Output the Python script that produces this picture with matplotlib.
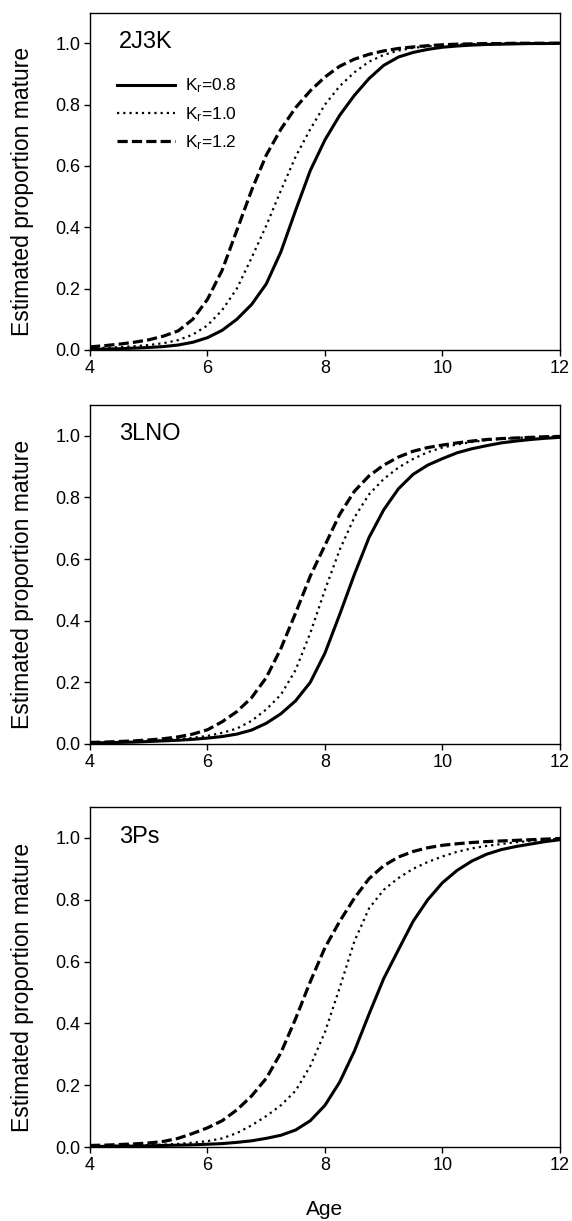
import matplotlib
matplotlib.use("Agg")
import matplotlib.pyplot as plt

# ages (x grid)
age = [4.0, 4.25, 4.5, 4.75, 5.0, 5.25, 5.5, 5.75, 6.0, 6.25, 6.5, 6.75,
       7.0, 7.25, 7.5, 7.75, 8.0, 8.25, 8.5, 8.75, 9.0, 9.25, 9.5, 9.75,
       10.0, 10.25, 10.5, 10.75, 11.0, 11.25, 11.5, 11.75, 12.0]

regions = ["2J3K", "3LNO", "3Ps"]
kr_labels = [r"K$_\mathrm{r}$=0.8", r"K$_\mathrm{r}$=1.0", r"K$_\mathrm{r}$=1.2"]

# 2J3K
p2j3k_08 = [0.002, 0.003, 0.004, 0.006, 0.008, 0.011, 0.016, 0.025, 0.040, 0.064, 0.100, 0.148,
            0.215, 0.320, 0.455, 0.585, 0.685, 0.765, 0.830, 0.885, 0.928, 0.955, 0.970, 0.980,
            0.987, 0.991, 0.994, 0.996, 0.997, 0.998, 0.999, 0.999, 1.000]
p2j3k_10 = [0.005, 0.007, 0.009, 0.012, 0.016, 0.022, 0.032, 0.050, 0.080, 0.130, 0.200, 0.300,
            0.405, 0.520, 0.630, 0.720, 0.800, 0.860, 0.905, 0.940, 0.962, 0.976, 0.985, 0.990,
            0.994, 0.996, 0.997, 0.998, 0.999, 0.999, 1.000, 1.000, 1.000]
p2j3k_12 = [0.010, 0.014, 0.019, 0.025, 0.033, 0.045, 0.062, 0.100, 0.165, 0.260, 0.390, 0.520,
            0.635, 0.720, 0.790, 0.845, 0.890, 0.925, 0.948, 0.964, 0.975, 0.983, 0.988, 0.992,
            0.995, 0.997, 0.998, 0.999, 0.999, 1.000, 1.000, 1.000, 1.000]

# 3LNO
p3lno_08 = [0.003, 0.004, 0.005, 0.006, 0.008, 0.010, 0.012, 0.015, 0.019, 0.024, 0.032, 0.045,
            0.067, 0.098, 0.140, 0.200, 0.295, 0.420, 0.550, 0.670, 0.760, 0.828, 0.875, 0.905,
            0.926, 0.945, 0.958, 0.968, 0.977, 0.983, 0.988, 0.992, 0.995]
p3lno_10 = [0.004, 0.005, 0.006, 0.008, 0.010, 0.013, 0.016, 0.020, 0.026, 0.036, 0.050, 0.075,
            0.112, 0.160, 0.240, 0.360, 0.500, 0.630, 0.735, 0.810, 0.860, 0.897, 0.925, 0.947,
            0.962, 0.972, 0.980, 0.986, 0.990, 0.993, 0.995, 0.997, 0.998]
p3lno_12 = [0.005, 0.006, 0.008, 0.010, 0.013, 0.017, 0.023, 0.032, 0.046, 0.072, 0.105, 0.150,
            0.215, 0.310, 0.425, 0.545, 0.645, 0.745, 0.820, 0.870, 0.905, 0.931, 0.950, 0.962,
            0.970, 0.977, 0.983, 0.988, 0.991, 0.993, 0.995, 0.997, 0.998]

# 3Ps
p3ps_08 = [0.002, 0.002, 0.003, 0.003, 0.004, 0.005, 0.006, 0.007, 0.009, 0.011, 0.015, 0.020,
           0.028, 0.038, 0.055, 0.085, 0.135, 0.210, 0.310, 0.430, 0.545, 0.638, 0.730, 0.800,
           0.855, 0.895, 0.925, 0.947, 0.962, 0.972, 0.980, 0.988, 0.994]
p3ps_10 = [0.003, 0.003, 0.004, 0.005, 0.006, 0.008, 0.010, 0.014, 0.019, 0.028, 0.045, 0.070,
           0.100, 0.135, 0.182, 0.262, 0.372, 0.515, 0.665, 0.772, 0.832, 0.870, 0.900, 0.922,
           0.940, 0.955, 0.966, 0.974, 0.980, 0.986, 0.990, 0.994, 0.997]
p3ps_12 = [0.005, 0.006, 0.008, 0.010, 0.013, 0.018, 0.028, 0.044, 0.062, 0.085, 0.120, 0.165,
           0.222, 0.305, 0.415, 0.535, 0.645, 0.730, 0.805, 0.868, 0.910, 0.938, 0.956, 0.968,
           0.976, 0.981, 0.985, 0.988, 0.990, 0.992, 0.994, 0.996, 0.998]

curves = [
    [p2j3k_08, p2j3k_10, p2j3k_12],
    [p3lno_08, p3lno_10, p3lno_12],
    [p3ps_08, p3ps_10, p3ps_12],
]

plt.rcParams["font.family"] = ["Liberation Sans", "DejaVu Sans"]
plt.rcParams["mathtext.fontset"] = "custom"
plt.rcParams["mathtext.rm"] = "Liberation Sans"
plt.rcParams["mathtext.it"] = "Liberation Sans:italic"

fig = plt.figure(figsize=(5.72, 12.21), dpi=100, facecolor="white")

# axes boxes in figure fraction: left, bottom, width, height
boxes = [
    [0.1573, 0.7134, 0.8217, 0.2763],
    [0.1573, 0.3907, 0.8217, 0.2776],
    [0.1573, 0.0606, 0.8217, 0.2785],
]

styles = [
    dict(linestyle="-", linewidth=2.2),
    dict(linestyle=(0, (1, 1.8)), linewidth=1.6),
    dict(linestyle=(0, (3.2, 1.3)), linewidth=2.3),
]

for i, (box, name) in enumerate(zip(boxes, regions)):
    ax = fig.add_axes(box)
    for vals, st, lab in zip(curves[i], styles, kr_labels):
        ax.plot(age, vals, color="black", label=lab, **st)

    ax.set_xlim(4, 12)
    ax.set_ylim(0, 1.1)
    ax.set_xticks([4, 6, 8, 10, 12])
    ax.set_yticks([0.0, 0.2, 0.4, 0.6, 0.8, 1.0])
    ax.set_yticklabels(["0.0", "0.2", "0.4", "0.6", "0.8", "1.0"])
    ax.tick_params(direction="out", length=4, width=1, labelsize=13, pad=3)
    for sp in ax.spines.values():
        sp.set_linewidth(1)

    ax.set_ylabel("Estimated proportion mature", fontsize=16.5)
    ax.yaxis.set_label_coords(-0.12, 0.47)

    ax.text(0.062, 0.913, name, transform=ax.transAxes, fontsize=17,
            ha="left", va="center")

    if i == 0:
        ax.legend(loc="upper left", bbox_to_anchor=(0.058, 0.81), frameon=False,
                  fontsize=12.5, handlelength=3.3, handletextpad=0.6,
                  labelspacing=0.55, borderpad=0, borderaxespad=0)
    if i == 2:
        ax.set_xlabel("Age", fontsize=15)
        ax.xaxis.set_label_coords(0.5, -0.155)
        ax.xaxis.label.set_va("top")

fig.savefig("out.png", dpi=100, facecolor="white")
